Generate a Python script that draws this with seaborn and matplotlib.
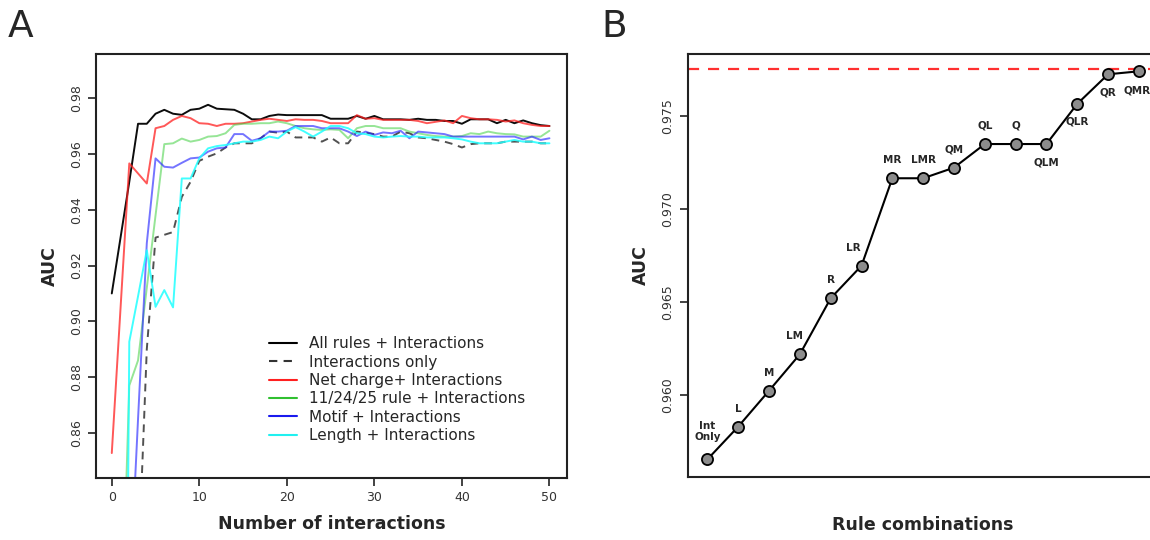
import numpy as np
import pandas as pd
import matplotlib
matplotlib.use("Agg")
import matplotlib.pyplot as plt
import seaborn as sns
from matplotlib.lines import Line2D

# Panel A: AUC vs number of interactions
n_interactions = list(range(0, 51))

all_rules = [0.910, 0.930, 0.950, 0.9708, 0.9708, 0.9744, 0.9758, 0.9744, 0.974, 0.9758, 0.9762,
             0.9776, 0.9762, 0.976, 0.9758, 0.9744, 0.9724, 0.9724, 0.9736, 0.9741, 0.9739,
             0.9739, 0.9739, 0.9739, 0.9739, 0.9726, 0.9726, 0.9726, 0.9736, 0.9726, 0.9736,
             0.9724, 0.9724, 0.9724, 0.9722, 0.9726, 0.9722, 0.9722, 0.9718, 0.9718, 0.9708,
             0.9724, 0.9724, 0.9724, 0.971, 0.9722, 0.971, 0.972, 0.971, 0.9703, 0.970]
interactions_only = [0.60, 0.65, 0.72, 0.809, 0.89, 0.930, 0.931, 0.932, 0.9446, 0.950, 0.9575,
                     0.959, 0.9602, 0.9623, 0.9638, 0.9638, 0.9638, 0.9656, 0.968, 0.9676, 0.968,
                     0.9659, 0.9659, 0.9659, 0.9644, 0.9659, 0.9638, 0.9638, 0.968, 0.9676, 0.9671,
                     0.9662, 0.9662, 0.968, 0.9674, 0.9659, 0.9656, 0.965, 0.9644, 0.9635, 0.9623,
                     0.9635, 0.9638, 0.9638, 0.9638, 0.9644, 0.9644, 0.9644, 0.9644, 0.9638, 0.9638]
net_charge = [0.8528, 0.9047, 0.9566, 0.953, 0.9494, 0.9692, 0.970, 0.9722, 0.9736, 0.9728, 0.971,
              0.9708, 0.970, 0.9708, 0.9708, 0.971, 0.9716, 0.9722, 0.9726, 0.9722, 0.9718,
              0.9724, 0.9722, 0.9722, 0.9718, 0.971, 0.971, 0.971, 0.9739, 0.9726, 0.9728,
              0.9722, 0.9722, 0.9722, 0.9722, 0.9718, 0.971, 0.9715, 0.972, 0.971, 0.9736,
              0.9728, 0.9724, 0.9724, 0.9722, 0.9716, 0.972, 0.971, 0.9704, 0.970, 0.970]
rule_112425 = [0.70, 0.775, 0.877, 0.886, 0.912, 0.938, 0.9635, 0.9638, 0.9655, 0.9644, 0.965,
               0.9662, 0.9664, 0.9674, 0.9704, 0.9708, 0.9708, 0.971, 0.971, 0.9716, 0.971,
               0.970, 0.9692, 0.9688, 0.9686, 0.9688, 0.9686, 0.9656, 0.9692, 0.970, 0.970,
               0.9692, 0.9692, 0.9692, 0.968, 0.9674, 0.9668, 0.9664, 0.9662, 0.9662, 0.9664,
               0.9674, 0.9671, 0.968, 0.9674, 0.9671, 0.967, 0.9662, 0.9662, 0.9662, 0.9683]
motif = [0.70, 0.75, 0.80, 0.865, 0.928, 0.9584, 0.9554, 0.9551, 0.9568, 0.9584, 0.9587,
         0.9608, 0.962, 0.9623, 0.9671, 0.9671, 0.9647, 0.9656, 0.968, 0.968, 0.9683,
         0.970, 0.970, 0.970, 0.9692, 0.9692, 0.9692, 0.968, 0.9664, 0.968, 0.9668,
         0.9677, 0.9674, 0.9683, 0.9656, 0.968, 0.9677, 0.9674, 0.9671, 0.9662, 0.9662,
         0.9662, 0.9662, 0.9662, 0.9662, 0.9662, 0.9662, 0.9652, 0.9662, 0.965, 0.9656]
length = [0.40, 0.50, 0.8927, 0.909, 0.9255, 0.9052, 0.9112, 0.905, 0.9512, 0.9512, 0.9584,
          0.962, 0.9628, 0.9632, 0.9638, 0.9644, 0.9644, 0.965, 0.9662, 0.9656, 0.968,
          0.9696, 0.968, 0.9662, 0.968, 0.970, 0.970, 0.9692, 0.9674, 0.9671, 0.9662,
          0.9659, 0.9662, 0.9664, 0.9662, 0.9662, 0.9659, 0.9659, 0.9659, 0.9656, 0.9652,
          0.9644, 0.9638, 0.9638, 0.9638, 0.9644, 0.965, 0.9644, 0.9644, 0.9638, 0.9638]

series_names = ["All rules + Interactions", "Interactions only", "Net charge+ Interactions",
                "11/24/25 rule + Interactions", "Motif + Interactions", "Length + Interactions"]
series_values = [all_rules, interactions_only, net_charge, rule_112425, motif, length]

# Panel B: AUC per rule combination
combos = ["Int\nOnly", "L", "M", "LM", "R", "LR", "MR", "LMR", "QM", "QL", "Q", "QLM", "QLR", "QR", "QMR"]
combo_auc = [0.95654, 0.95830, 0.96023, 0.96219, 0.96520, 0.96695, 0.97165, 0.97165,
             0.97222, 0.97349, 0.97349, 0.97349, 0.97565, 0.97724, 0.97740]
all_rules_auc = 0.97753
label_below = ["QLM", "QLR", "QR", "QMR"]

sns.set_theme(style="ticks")
plt.rcParams["font.family"] = ["DejaVu Sans"]

fig = plt.figure(figsize=(11.5, 5.4), dpi=100)
ax1 = fig.add_axes([0.0835, 0.115, 0.4095, 0.785])
ax2 = fig.add_axes([0.598, 0.117, 0.4095, 0.783])

# styles: (color in plot, alpha, linestyle, color in legend)
styles = [("black", 0.95, "-", "black"),
          ("#333333", 0.85, (0, (4, 3)), "#333333"),
          ("#ff2020", 0.75, "-", "#ff2020"),
          ("#40d040", 0.55, "-", "#30c030"),
          ("#2a2aff", 0.65, "-", "#1a1aee"),
          ("#20ffff", 0.85, "-", "#20f0f0")]

df = pd.DataFrame({"x": n_interactions})
for name, vals, (col, a, ls, _) in zip(series_names, series_values, styles):
    df[name] = vals
    sns.lineplot(data=df, x="x", y=name, ax=ax1, color=col, alpha=a, linewidth=1.4)
    ax1.lines[-1].set_linestyle(ls)

ax1.set_xlim(-1.8, 52.0)
ax1.set_ylim(0.8439, 0.9958)
ax1.set_xticks([0, 10, 20, 30, 40, 50])
ax1.set_yticks([0.86, 0.88, 0.90, 0.92, 0.94, 0.96, 0.98])
ax1.set_yticklabels(["0.86", "0.88", "0.90", "0.92", "0.94", "0.96", "0.98"])
ax1.set_xlabel("Number of interactions", fontsize=12.5, fontweight="bold", labelpad=8)
ax1.set_ylabel("AUC", fontsize=12.5, fontweight="bold", labelpad=8)

handles = [Line2D([], [], color=s[3], linestyle=s[2], linewidth=1.5) for s in styles]
ax1.legend(handles, series_names, loc="lower left", bbox_to_anchor=(0.355, 0.068),
           frameon=False, fontsize=11, handlelength=1.8, labelspacing=0.22,
           handletextpad=0.8, borderaxespad=0)

# Panel B
dfb = pd.DataFrame({"idx": range(len(combos)), "auc": combo_auc})
ax2.axhline(all_rules_auc, color="#ff3030", linestyle=(0, (5, 4)), linewidth=1.6, zorder=1)
sns.lineplot(data=dfb, x="idx", y="auc", ax=ax2, color="black", linewidth=1.5,
             marker="o", markersize=8, markerfacecolor="#8c8c8c", markeredgecolor="black",
             markeredgewidth=1.3, zorder=3)
for i, (lab, v) in enumerate(zip(combos, combo_auc)):
    dx, dy = 0, 13
    if lab in label_below:
        dy = -13
    if lab == "Int\nOnly":
        dy = 20
    if lab == "LR":
        dx = -6
    if lab == "LM":
        dx = -4
    if lab == "QMR":
        dx, dy = -1, -14
    ax2.annotate(lab, (i, v), xytext=(dx, dy), textcoords="offset points",
                 ha="center", va="center", fontsize=7.5, fontweight="bold",
                 linespacing=1.2)

ax2.set_xlim(-0.64, 14.64)
ax2.set_ylim(0.9556, 0.97833)
ax2.set_xticks([])
ax2.set_yticks([0.960, 0.965, 0.970, 0.975])
ax2.set_yticklabels(["0.960", "0.965", "0.970", "0.975"])
ax2.set_xlabel("Rule combinations", fontsize=12.5, fontweight="bold", labelpad=28)
ax2.set_ylabel("AUC", fontsize=12.5, fontweight="bold", labelpad=8)

for ax in (ax1, ax2):
    for sp in ax.spines.values():
        sp.set_color("#222222")
        sp.set_linewidth(1.5)
    ax.tick_params(axis="both", length=6, width=1.2, labelsize=9, color="#222222",
                   labelcolor="#333333")
    for t in ax.get_yticklabels():
        t.set_rotation(90)
        t.set_va("center")

fig.text(0.007, 0.932, "A", fontsize=27)
fig.text(0.523, 0.932, "B", fontsize=27)

fig.savefig("out.png", dpi=100)
